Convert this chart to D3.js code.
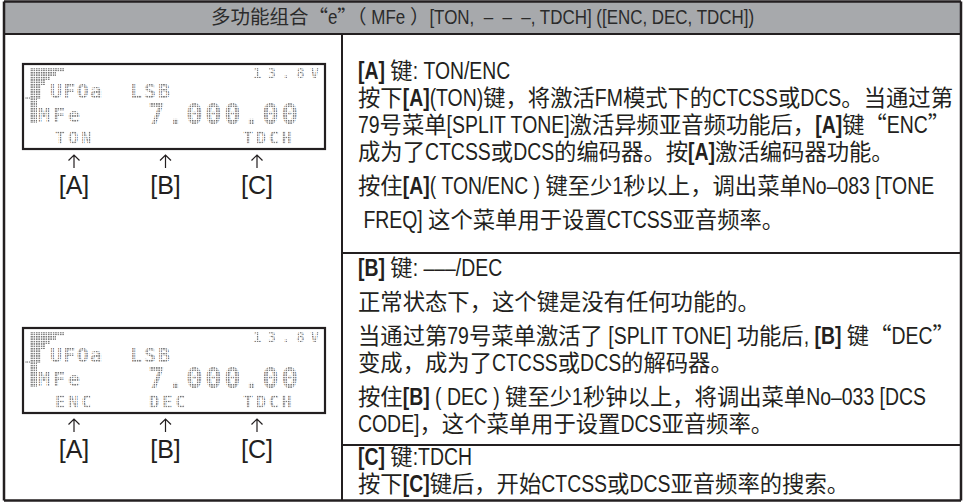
<!DOCTYPE html>
<html><head><meta charset="utf-8">
<script src="https://cdn.jsdelivr.net/npm/d3@7"></script>
<style>body{margin:0;background:#fff} text{white-space:pre}</style>
</head><body><svg id="c" width="964" height="502"></svg>
<script>
// ---- content ----
const titleText = "多功能组合“e”（ MFe ）[TON,  –  –  –, TDCH] ([ENC, DEC, TDCH])";
const keyLabels = ["[A]", "[B]", "[C]"];
const lcdFreq = "7.000.00";
const lcdMode = "LSB";
const lcdVfo = "UFOa";
const lcdMenu = "MFe";
const lcdVolt = "13.8V";
const softKeys1 = ["TON", "", "TDCH"];
const softKeys2 = ["ENC", "DEC", "TDCH"];
// paragraphs of each right-hand row; **..** = bold
const rowA = [
  ["**[A]** 键: TON/ENC",
   "按下**[A]**(TON)键，将激活FM模式下的CTCSS或DCS。当通过第",
   "79号菜单[SPLIT TONE]激活异频亚音频功能后，**[A]**键“ENC”",
   "成为了CTCSS或DCS的编码器。按**[A]**激活编码器功能。"],
  ["按住**[A]**( TON/ENC ) 键至少1秒以上，调出菜单No–083 [TONE"],
  [" FREQ] 这个菜单用于设置CTCSS亚音频率。"]
];
const rowB = [
  ["**[B]** 键: –––/DEC"],
  ["正常状态下，这个键是没有任何功能的。"],
  ["当通过第79号菜单激活了 [SPLIT TONE] 功能后, **[B]** 键“DEC”",
   "变成，成为了CTCSS或DCS的解码器。"],
  ["按住**[B]** ( DEC ) 键至少1秒钟以上，将调出菜单No–033 [DCS",
   "CODE]，这个菜单用于设置DCS亚音频率。"]
];
const rowC = [
  ["**[C]** 键:TDCH",
   "按下**[C]**键后，开始CTCSS或DCS亚音频率的搜索。"]
];

// ---- layout ----
const W = 964, H = 502;
const L = 4, R = 961, T = 1.5, B = 500.5;
const headH = 34, divX = 342;
const rowEdges = [headH, 253, 445, B];
const firstLineOffset = [37, 15, 12];
const ink = "#231f20";
const latinFont = "'Liberation Sans',Arial,sans-serif";
const cjkFont = "'Noto Sans CJK SC',sans-serif";
const latinScaleX = 0.82, latinSize = 1.06;

const svg = d3.select("#c");
const defs = svg.append("defs");
defs.append("pattern").attr("id", "dots").attr("width", 2.4).attr("height", 2.4)
  .attr("patternUnits", "userSpaceOnUse")
  .append("rect").attr("width", 1.5).attr("height", 1.5).attr("fill", "#6e6e6e");

svg.append("rect").attr("width", W).attr("height", H).attr("fill", "#fff");

// mixed-script line renderer: CJK full width, Latin condensed via tspan textLength
const isCJK = ch => /[\u3000-\u303f\u4e00-\u9fff\uff00-\uffef\u201c\u201d]/.test(ch);
function runsOf(str) {
  const out = [];
  str.split(/(\*\*[^*]+\*\*)/).filter(s => s.length).forEach(seg => {
    const bold = seg.startsWith("**");
    const s = bold ? seg.slice(2, -2) : seg;
    let cur = "", curC = null;
    for (const ch of s) {
      const c = isCJK(ch);
      if (curC !== null && c !== curC) { out.push({ t: cur, cjk: curC, bold }); cur = ""; }
      cur += ch; curC = c;
    }
    if (cur) out.push({ t: cur, cjk: curC, bold });
  });
  return out;
}
const probe = svg.append("text").attr("x", -2000).attr("y", -2000);
function measure(s, fam, size, bold) {
  probe.attr("font-family", fam).attr("font-size", size).attr("font-weight", bold ? "bold" : "normal").text(s);
  return probe.node().getComputedTextLength();
}
function drawLine(g, x, y, str, fs, color) {
  const t = g ? g.append("text").attr("x", x).attr("y", y).attr("fill", color || ink) : null;
  let total = 0;
  runsOf(str).forEach(r => {
    if (r.cjk) {
      const w = measure(r.t, cjkFont, fs, r.bold);
      if (t) t.append("tspan").attr("font-family", cjkFont).attr("font-size", fs)
        .attr("font-weight", r.bold ? "bold" : null).text(r.t);
      total += w;
    } else {
      const w = measure(r.t, latinFont, fs * latinSize, r.bold) * latinScaleX;
      if (t) t.append("tspan").attr("font-family", latinFont).attr("font-size", fs * latinSize)
        .attr("font-weight", r.bold ? "bold" : null)
        .attr("textLength", w).attr("lengthAdjust", "spacingAndGlyphs").text(r.t);
      total += w;
    }
  });
  return total;
}

// header
svg.append("rect").attr("x", L).attr("y", T).attr("width", R - L).attr("height", headH - T)
  .attr("fill", "#a7a9ac");
const hw = drawLine(null, 0, 0, titleText, 19.5);
drawLine(svg, (L + R) / 2 - hw / 2, headH / 2 + 7, titleText, 19.5, "#2b2b2b");

// grid lines
const lines = [
  [L, T, R, T], [L, B, R, B], [L, T, L, B], [R, T, R, B],
  [L, headH, R, headH], [divX, headH, divX, B],
  [divX, rowEdges[1], R, rowEdges[1]], [divX, rowEdges[2], R, rowEdges[2]]
];
svg.selectAll("line.g").data(lines).join("line").attr("class", "g")
  .attr("x1", d => d[0]).attr("y1", d => d[1]).attr("x2", d => d[2]).attr("y2", d => d[3])
  .attr("stroke", ink).attr("stroke-width", (d, i) => i < 4 ? 2.5 : 2);

// right text
const textX = 358, textW = 597, lineH = 27, paraGap = 7;
const tg = svg.append("g");
const allRows = [rowA, rowB, rowC];
let maxW = 0;
allRows.flat(2).forEach(s => { maxW = Math.max(maxW, drawLine(null, 0, 0, s, 20)); });
const fs = Math.max(15, Math.min(24, 20 * textW / maxW));
allRows.forEach((paras, ri) => {
  let y = rowEdges[ri] + firstLineOffset[ri];
  paras.forEach(p => {
    p.forEach(s => { drawLine(tg, textX, y + fs * 0.36, s, fs); y += lineH; });
    y += paraGap;
  });
});
probe.remove();

// LCD panels
const lcdX = 23, lcdW = 302, lcdH = 85;
const lcdTops = [64, 328];
const softSets = [softKeys1, softKeys2];
const keyX = d3.scalePoint().domain(keyLabels).range([74, 257]);
const softX = d3.scalePoint().domain(keyLabels).range([55, 243]);
const mono = "'DejaVu Sans Mono',monospace";
lcdTops.forEach((top, li) => {
  const g = svg.append("g");
  g.append("rect").attr("x", lcdX).attr("y", top).attr("width", lcdW).attr("height", lcdH)
    .attr("fill", "#fff").attr("stroke", ink).attr("stroke-width", 2.2);
  const dg = g.append("g").attr("fill", "url(#dots)").attr("font-family", mono).attr("font-weight", "bold");
  let yy = top + 4;
  [[34, 4], [26, 4], [20, 4], [15, 5], [11, 14], [7, 24]].forEach(([w, h]) => {
    dg.append("rect").attr("x", 30).attr("y", yy).attr("width", w).attr("height", h);
    yy += h;
  });
  dg.append("rect").attr("x", 25).attr("y", top + 33).attr("width", 5).attr("height", 2);
  dg.append("text").attr("x", 253).attr("y", top + 14).attr("font-size", 14).attr("textLength", 66).text(lcdVolt);
  dg.append("text").attr("x", 50).attr("y", top + 34).attr("font-size", 20).attr("textLength", 52).text(lcdVfo);
  dg.append("text").attr("x", 130).attr("y", top + 34).attr("font-size", 20).attr("textLength", 40).text(lcdMode);
  dg.append("text").attr("x", 38).attr("y", top + 58).attr("font-size", 20).attr("textLength", 42).text(lcdMenu);
  dg.append("text").attr("x", 148).attr("y", top + 60).attr("font-size", 28).attr("textLength", 150).text(lcdFreq);
  softSets[li].forEach((s, i) => {
    if (!s) return;
    dg.append("text").attr("x", softX(keyLabels[i])).attr("y", top + 80).attr("font-size", 17)
      .attr("textLength", s.length * 12.2).text(s);
  });
  const bot = top + lcdH;
  keyLabels.forEach(k => {
    const x = keyX(k);
    g.append("path").attr("d", `M${x},${bot + 19}V${bot + 6}M${x - 5.5},${bot + 11.5}L${x},${bot + 6}L${x + 5.5},${bot + 11.5}`)
      .attr("fill", "none").attr("stroke", ink).attr("stroke-width", 1.2);
    g.append("text").attr("x", x).attr("y", bot + 45).attr("text-anchor", "middle")
      .attr("font-family", latinFont).attr("font-size", 25).attr("fill", ink).text(k);
  });
});
</script></body></html>
